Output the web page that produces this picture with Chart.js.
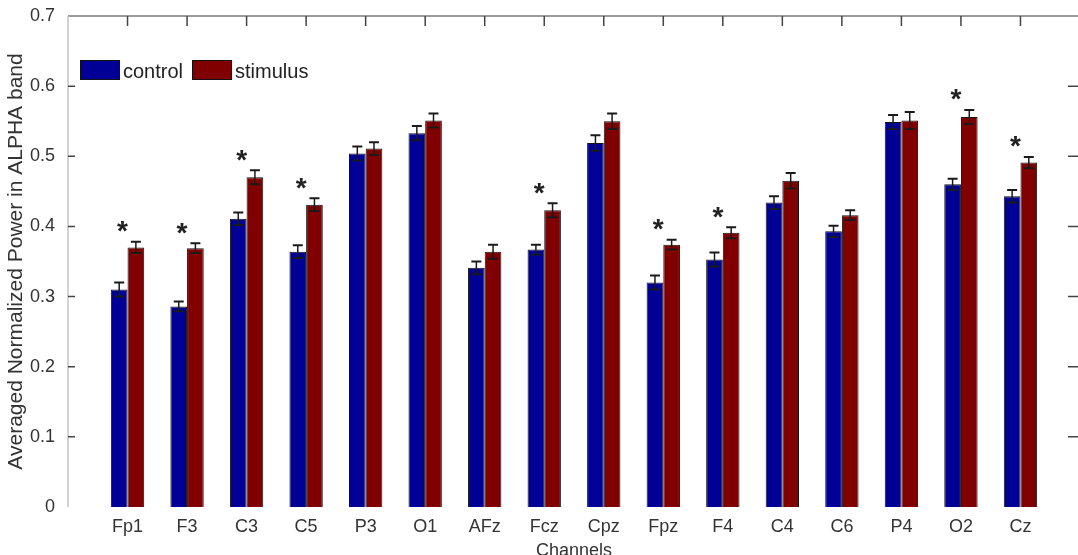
<!DOCTYPE html>
<html>
<head>
<meta charset="utf-8">
<script src="https://cdn.jsdelivr.net/npm/chart.js@4.4.0/dist/chart.umd.min.js"></script>
<style>
  html, body { margin: 0; padding: 0; background: #fff; overflow: hidden; }
</style>
</head>
<body>
<canvas id="myChart" width="1090" height="555"></canvas>
<script>
// datos
const canales = ['Fp1', 'F3', 'C3', 'C5', 'P3', 'O1', 'AFz', 'Fcz', 'Cpz', 'Fpz', 'F4', 'C4', 'C6', 'P4', 'O2', 'Cz'];
const control = [0.310, 0.286, 0.411, 0.364, 0.504, 0.533, 0.341, 0.367, 0.519, 0.320, 0.353, 0.434, 0.393, 0.549, 0.460, 0.443];
const controlErr = [0.010, 0.007, 0.009, 0.009, 0.010, 0.010, 0.009, 0.007, 0.011, 0.010, 0.010, 0.009, 0.008, 0.010, 0.008, 0.009];
const stimulus = [0.370, 0.369, 0.470, 0.431, 0.511, 0.551, 0.364, 0.423, 0.550, 0.374, 0.391, 0.465, 0.416, 0.551, 0.556, 0.491];
const stimulusErr = [0.008, 0.007, 0.010, 0.009, 0.009, 0.010, 0.010, 0.010, 0.011, 0.007, 0.008, 0.011, 0.007, 0.012, 0.010, 0.008];
const significativo = [1, 1, 1, 1, 0, 0, 0, 1, 0, 1, 1, 0, 0, 0, 1, 1];
const ticksY = [0.1, 0.2, 0.3, 0.4, 0.5, 0.6];

const azul = 'rgb(0, 0, 150)';
const rojo = 'rgb(128, 0, 0)';
const fuente = "'Liberation Sans', Arial, sans-serif";

// un hueco vacio a cada lado, como xlim [0 17]
function relleno(arr) {
    return [null].concat(arr).concat([null]);
}
const etiquetas = [''].concat(canales).concat(['']);

const marco = {
    id: 'marco',
    afterDatasetsDraw(chart) {
        const c = chart.ctx;
        const y = chart.scales.y;
        c.save();
        c.strokeStyle = '#1a1a1a';
        chart.data.datasets.forEach(function (ds, d) {
            const meta = chart.getDatasetMeta(d);
            meta.data.forEach(function (bar, i) {
                const v = ds.data[i];
                if (v == null) return;
                const e = ds.errores[i];
                const yt = y.getPixelForValue(v + e);
                const yb = y.getPixelForValue(v - e);
                const x = bar.x;
                c.lineWidth = 1.5;
                c.beginPath();
                c.moveTo(x, yt); c.lineTo(x, yb);
                c.stroke();
                c.lineWidth = 2;
                c.beginPath();
                c.moveTo(x - 5, yt); c.lineTo(x + 5, yt);
                c.moveTo(x - 5, yb); c.lineTo(x + 5, yb);
                c.stroke();
            });
        });
        c.restore();
    },
    afterDraw(chart) {
        const c = chart.ctx;
        const a = chart.chartArea;
        const x = chart.scales.x;
        const y = chart.scales.y;
        c.save();

        // bordes
        c.lineWidth = 1.5;
        c.strokeStyle = '#7a7a7a';
        c.beginPath();
        c.moveTo(a.left, a.top); c.lineTo(a.right, a.top);
        c.stroke();
        c.strokeStyle = '#c4c4c4';
        c.beginPath();
        c.moveTo(a.left, a.top); c.lineTo(a.left, a.bottom);
        c.stroke();

        // marcas hacia dentro
        c.strokeStyle = '#444';
        c.beginPath();
        for (let i = 1; i <= canales.length; i++) {
            const px = x.getPixelForValue(i);
            c.moveTo(px, a.top); c.lineTo(px, a.top + 10);
        }
        ticksY.forEach(function (t) {
            const py = y.getPixelForValue(t);
            c.moveTo(a.left, py); c.lineTo(a.left + 7, py);
            c.moveTo(a.right, py); c.lineTo(a.right - 12, py);
        });
        c.stroke();

        // asteriscos
        c.fillStyle = '#222';
        c.font = 'bold 28px ' + fuente;
        c.textAlign = 'center';
        c.textBaseline = 'alphabetic';
        const m = c.measureText('*');
        significativo.forEach(function (s, i) {
            if (!s) return;
            const px = x.getPixelForValue(i + 1) - 5;
            const py = y.getPixelForValue(stimulus[i] + stimulusErr[i]) - 15;
            c.fillText('*', px, py + (m.actualBoundingBoxAscent - m.actualBoundingBoxDescent) / 2);
        });

        // leyenda dentro del area
        c.font = '20px ' + fuente;
        c.textAlign = 'left';
        c.textBaseline = 'alphabetic';
        let lx = a.left + 12;
        const ly = a.top + 44;
        chart.data.datasets.forEach(function (ds) {
            c.fillStyle = ds.backgroundColor;
            c.fillRect(lx, ly, 40, 20);
            c.strokeStyle = '#111';
            c.lineWidth = 1;
            c.strokeRect(lx + 0.5, ly + 0.5, 39, 19);
            c.fillStyle = '#222';
            c.fillText(ds.label, lx + 43, ly + 18);
            lx += 43 + c.measureText(ds.label).width + 9;
        });
        c.restore();
    }
};

const ctx = document.getElementById('myChart').getContext('2d');
const myChart = new Chart(ctx, {
    type: 'bar',
    data: {
        labels: etiquetas,
        datasets: [{
            label: 'control',
            data: relleno(control),
            errores: relleno(controlErr),
            backgroundColor: azul,
            borderColor: '#141414',
            borderWidth: 1
        }, {
            label: 'stimulus',
            data: relleno(stimulus),
            errores: relleno(stimulusErr),
            backgroundColor: rojo,
            borderColor: '#141414',
            borderWidth: 1
        }]
    },
    options: {
        responsive: false,
        animation: false,
        layout: { padding: { top: 16, right: 10, left: 0, bottom: 0 } },
        datasets: { bar: { categoryPercentage: 0.56, barPercentage: 1 } },
        plugins: {
            legend: { display: false },
            tooltip: { enabled: false }
        },
        scales: {
            x: {
                offset: false,
                grid: { display: false },
                border: { display: false },
                ticks: {
                    autoSkip: false,
                    maxRotation: 0,
                    padding: 1,
                    color: '#333',
                    font: { family: fuente, size: 18 }
                },
                title: {
                    display: true,
                    text: 'Channels',
                    color: '#333',
                    font: { family: fuente, size: 18, lineHeight: 1 },
                    padding: { top: 0, bottom: -5 }
                },
                afterFit: function (s) { s.height = 48; }
            },
            y: {
                min: 0,
                max: 0.7,
                grid: { display: false },
                border: { display: false },
                ticks: {
                    stepSize: 0.1,
                    padding: 5,
                    color: '#333',
                    font: { family: fuente, size: 18 }
                },
                title: {
                    display: true,
                    text: 'Averaged Normalized Power in ALPHA band',
                    color: '#333',
                    font: { family: fuente, size: 21 },
                    padding: { top: 4, bottom: 0 }
                },
                afterFit: function (s) { s.width = 68; }
            }
        }
    },
    plugins: [marco]
});
</script>
</body>
</html>
